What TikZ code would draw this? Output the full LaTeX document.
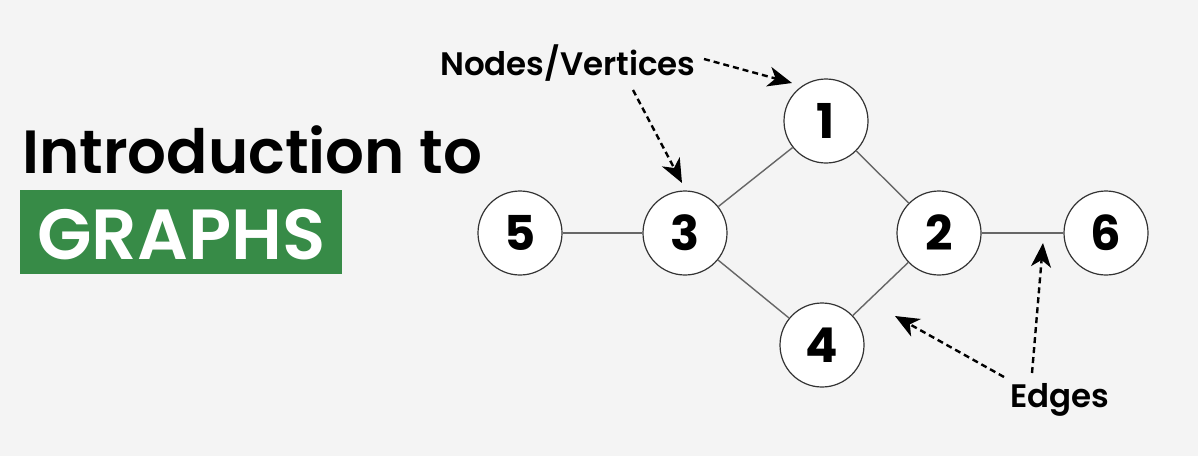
\documentclass[tikz,border=0pt]{standalone}
\usepackage{fontspec}
\newfontfamily\popsb{Poppins}[UprightFont=* SemiBold, BoldFont=* Bold]
\usetikzlibrary{arrows.meta}
\definecolor{bg}{HTML}{F4F4F4}
\definecolor{gfggreen}{HTML}{378B47}
\definecolor{edgegray}{HTML}{666666}
\definecolor{ringgray}{HTML}{333333}
\begin{document}
\begin{tikzpicture}[x=1pt,y=-1pt,
  vertex/.style={circle, draw=ringgray, line width=1.2pt, fill=white, minimum size=84pt, inner sep=0pt, font=\popsb\bfseries\fontsize{48}{48}\selectfont},
  edge/.style={draw=edgegray, line width=1.4pt},
  pointer/.style={draw=black, line width=2.4pt, dash pattern=on 6pt off 4pt, -{Stealth[length=24pt,width=20pt,inset=7pt]}},
  label/.style={anchor=base west, inner sep=0pt, font=\popsb\fontsize{32.5}{32.5}\selectfont}
]
\useasboundingbox (0,0) rectangle (1198,456);
\fill[bg] (0,0) rectangle (1198,456);

% title
\node[anchor=base west, inner sep=0pt, font=\popsb\fontsize{61}{61}\selectfont] (title) at (22,173) {Introduction to};
\fill[gfggreen] (20,190) rectangle (342,274);
\node[anchor=base west, inner sep=0pt, text=white, font=\popsb\fontsize{71}{71}\selectfont] (graphs) at (37,259) {GRAPHS};

% vertices
\node[vertex] (n1) at (826,121) {1};
\node[vertex] (n2) at (939,233) {2};
\node[vertex] (n3) at (685,233) {3};
\node[vertex] (n4) at (822,345) {4};
\node[vertex] (n5) at (520,233) {5};
\node[vertex] (n6) at (1106,233) {6};

% edges
\draw[edge] (n5) -- (n3);
\draw[edge] (n3) -- (n1);
\draw[edge] (n1) -- (n2);
\draw[edge] (n3) -- (n4);
\draw[edge] (n4) -- (n2);
\draw[edge] (n2) -- (n6);

% labels
\node[label] (nv) at (440,75) {Nodes/Vertices};
\node[label] (ed) at (1010,407) {Edges};

% pointers
\coordinate (a1s) at (704,59);
\coordinate (a1e) at (792,83);
\coordinate (a2s) at (633,90);
\coordinate (a2e) at (682,183);
\coordinate (b1s) at (1004,377);
\coordinate (b1e) at (895,316);
\coordinate (b2s) at (1032,373);
\coordinate (b2e) at (1043,243);
\draw[pointer] (a1s) -- (a1e);
\draw[pointer] (a2s) -- (a2e);
\draw[pointer] (b1s) -- (b1e);
\draw[pointer] (b2s) -- (b2e);
\end{tikzpicture}
\end{document}
